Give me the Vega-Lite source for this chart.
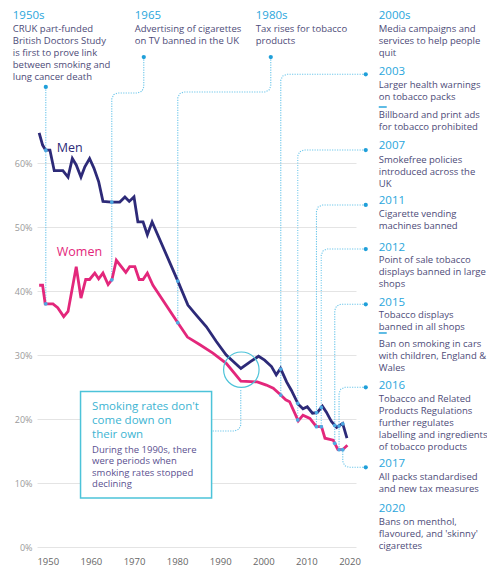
{
  "$schema": "https://vega.github.io/schema/vega-lite/v6.json",
  "width": 319,
  "height": 448,
  "autosize": {"type": "none"},
  "padding": {"left": 37, "top": 99, "right": 131, "bottom": 22},
  "background": "white",
  "config": {"view": {"stroke": null}, "font": "Open Sans"},
  "datasets": {
    "series": [
      {"s":"Men","x":1948,"y":64.7},{"s":"Men","x":1948.8,"y":62.8},{"s":"Men","x":1949.5,"y":62},{"s":"Men","x":1950.5,"y":62},{"s":"Men","x":1951.5,"y":58.8},{"s":"Men","x":1953.5,"y":58.8},{"s":"Men","x":1954.7,"y":57.8},{"s":"Men","x":1955.7,"y":60.7},{"s":"Men","x":1956.6,"y":59.7},{"s":"Men","x":1957.7,"y":57.8},{"s":"Men","x":1958.6,"y":59.4},{"s":"Men","x":1959.7,"y":60.7},{"s":"Men","x":1960.7,"y":59.2},{"s":"Men","x":1961.8,"y":57.1},{"s":"Men","x":1962.8,"y":54},{"s":"Men","x":1964.8,"y":53.9},{"s":"Men","x":1966.7,"y":53.9},{"s":"Men","x":1967.9,"y":54.7},{"s":"Men","x":1968.9,"y":54},{"s":"Men","x":1970,"y":54.7},{"s":"Men","x":1970.9,"y":50.8},{"s":"Men","x":1972.1,"y":50.8},{"s":"Men","x":1973.1,"y":48.8},{"s":"Men","x":1974.2,"y":50.8},{"s":"Men","x":1980.2,"y":41.5},{"s":"Men","x":1982.5,"y":37.8},{"s":"Men","x":1984.5,"y":36.2},{"s":"Men","x":1986.8,"y":34.4},{"s":"Men","x":1989.1,"y":32.1},{"s":"Men","x":1991.4,"y":30},{"s":"Men","x":1994.8,"y":27.9},{"s":"Men","x":1997.1,"y":29},{"s":"Men","x":1998.9,"y":29.8},{"s":"Men","x":2000.3,"y":29.2},{"s":"Men","x":2001.9,"y":28.2},{"s":"Men","x":2003,"y":26.9},{"s":"Men","x":2004,"y":27.9},{"s":"Men","x":2005.4,"y":25.8},{"s":"Men","x":2006.5,"y":24.5},{"s":"Men","x":2008.1,"y":22.3},{"s":"Men","x":2009.2,"y":21.6},{"s":"Men","x":2010.2,"y":21.9},{"s":"Men","x":2011.4,"y":20.9},{"s":"Men","x":2012.5,"y":21},{"s":"Men","x":2013.7,"y":22},{"s":"Men","x":2014.6,"y":21.1},{"s":"Men","x":2015.8,"y":19.6},{"s":"Men","x":2017,"y":18.7},{"s":"Men","x":2018.4,"y":19.3},{"s":"Men","x":2019.4,"y":17},
      {"s":"Women","x":1948,"y":40.9},{"s":"Women","x":1948.8,"y":40.9},{"s":"Women","x":1949.4,"y":38},{"s":"Women","x":1951.2,"y":38},{"s":"Women","x":1952.3,"y":37.4},{"s":"Women","x":1953.7,"y":36},{"s":"Women","x":1954.7,"y":36.8},{"s":"Women","x":1956.6,"y":43.8},{"s":"Women","x":1957.7,"y":38.9},{"s":"Women","x":1958.8,"y":41.8},{"s":"Women","x":1959.7,"y":41.8},{"s":"Women","x":1960.9,"y":42.8},{"s":"Women","x":1961.8,"y":41.9},{"s":"Women","x":1962.8,"y":42.8},{"s":"Women","x":1964,"y":41},{"s":"Women","x":1964.9,"y":41.8},{"s":"Women","x":1965.9,"y":44.8},{"s":"Women","x":1968.1,"y":42.9},{"s":"Women","x":1969,"y":43.8},{"s":"Women","x":1970.2,"y":43.8},{"s":"Women","x":1971.2,"y":41.8},{"s":"Women","x":1972.1,"y":41.8},{"s":"Women","x":1973.1,"y":42.8},{"s":"Women","x":1974.4,"y":40.9},{"s":"Women","x":1980.2,"y":35},{"s":"Women","x":1982.4,"y":32.8},{"s":"Women","x":1985.3,"y":31.6},{"s":"Women","x":1988.3,"y":30.3},{"s":"Women","x":1991.4,"y":28.7},{"s":"Women","x":1994.8,"y":25.9},{"s":"Women","x":1998.6,"y":25.8},{"s":"Women","x":2000.7,"y":25.3},{"s":"Women","x":2002.3,"y":24.8},{"s":"Women","x":2003.8,"y":23.9},{"s":"Women","x":2005.2,"y":23},{"s":"Women","x":2006.1,"y":22.7},{"s":"Women","x":2008.1,"y":19.7},{"s":"Women","x":2009.2,"y":20.6},{"s":"Women","x":2010.8,"y":20.1},{"s":"Women","x":2012.3,"y":18.8},{"s":"Women","x":2013.5,"y":18.8},{"s":"Women","x":2014.3,"y":17},{"s":"Women","x":2016.2,"y":16.7},{"s":"Women","x":2017.3,"y":15.2},{"s":"Women","x":2018.4,"y":15.2},{"s":"Women","x":2019.5,"y":15.9}
    ],
    "connectors": [
      {"p":"a","o":0,"x":1949.54,"y":71.88},{"p":"a","o":1,"x":1949.54,"y":38},
      {"p":"b","o":0,"x":1972.27,"y":76.56},{"p":"b","o":1,"x":1972.27,"y":71.88},{"p":"b","o":2,"x":1971.85,"y":71.22},{"p":"b","o":3,"x":1970.88,"y":70.94},{"p":"b","o":4,"x":1966.24,"y":70.94},{"p":"b","o":5,"x":1965.26,"y":70.66},{"p":"b","o":6,"x":1964.85,"y":70.0},{"p":"b","o":7,"x":1964.85,"y":41.75},
      {"p":"c","o":0,"x":2001.73,"y":76.56},{"p":"c","o":1,"x":2001.73,"y":72.03},{"p":"c","o":2,"x":2001.31,"y":71.38},{"p":"c","o":3,"x":2000.34,"y":71.09},{"p":"c","o":4,"x":1981.55,"y":71.09},{"p":"c","o":5,"x":1980.57,"y":70.81},{"p":"c","o":6,"x":1980.16,"y":70.16},{"p":"c","o":7,"x":1980.16,"y":35.05},
      {"p":"d","o":0,"x":2023.76,"y":73.86},{"p":"d","o":1,"x":2005.44,"y":73.86},{"p":"d","o":2,"x":2004.47,"y":73.58},{"p":"d","o":3,"x":2004.05,"y":72.92},{"p":"d","o":4,"x":2004.05,"y":23.74},
      {"p":"e","o":0,"x":2023.76,"y":62.03},{"p":"e","o":1,"x":2009.38,"y":62.03},{"p":"e","o":2,"x":2008.41,"y":61.75},{"p":"e","o":3,"x":2007.99,"y":61.09},{"p":"e","o":4,"x":2007.99,"y":19.86},
      {"p":"f","o":0,"x":2023.76,"y":53.44},{"p":"f","o":1,"x":2013.72,"y":53.44},{"p":"f","o":2,"x":2012.75,"y":53.16},{"p":"f","o":3,"x":2012.33,"y":52.5},{"p":"f","o":4,"x":2012.33,"y":18.8},
      {"p":"g","o":0,"x":2023.76,"y":46.56},{"p":"g","o":1,"x":2014.83,"y":46.56},{"p":"g","o":2,"x":2013.86,"y":46.28},{"p":"g","o":3,"x":2013.44,"y":45.63},{"p":"g","o":4,"x":2013.44,"y":18.8},
      {"p":"h","o":0,"x":2023.76,"y":37.92},{"p":"h","o":1,"x":2017.97,"y":37.92},{"p":"h","o":2,"x":2016.99,"y":37.64},{"p":"h","o":3,"x":2016.57,"y":36.98},{"p":"h","o":4,"x":2016.57,"y":16.2},
      {"p":"i","o":0,"x":2023.76,"y":24.95},{"p":"i","o":1,"x":2018.96,"y":24.95},{"p":"i","o":2,"x":2017.99,"y":24.67},{"p":"i","o":3,"x":2017.57,"y":24.02},{"p":"i","o":4,"x":2017.57,"y":15.2},
      {"p":"j","o":0,"x":2023.76,"y":12.45},{"p":"j","o":1,"x":2019.82,"y":12.45},{"p":"j","o":2,"x":2018.85,"y":12.73},{"p":"j","o":3,"x":2018.43,"y":13.39},{"p":"j","o":4,"x":2018.43,"y":15.2},
      {"p":"k","o":0,"x":1994.77,"y":24.53},{"p":"k","o":1,"x":1994.77,"y":19.06},{"p":"k","o":2,"x":1994.35,"y":18.41},{"p":"k","o":3,"x":1993.38,"y":18.13},{"p":"k","o":4,"x":1988.04,"y":18.13}
    ],
    "dots": [
      {"x":1949.54,"y":62},{"x":1949.54,"y":38},{"x":1964.85,"y":53.9},{"x":1964.85,"y":41.75},{"x":1980.16,"y":41.56},{"x":1980.16,"y":35.05},{"x":2004.05,"y":27.8},{"x":2004.05,"y":23.74},{"x":2007.99,"y":22.45},{"x":2007.99,"y":19.86},{"x":2012.33,"y":21},{"x":2012.33,"y":18.8},{"x":2013.44,"y":21.8},{"x":2013.44,"y":18.8},{"x":2016.57,"y":19.0},{"x":2016.57,"y":16.2},{"x":2017.57,"y":18.9},{"x":2017.57,"y":15.2},{"x":2018.43,"y":19.25},{"x":2018.43,"y":15.2}
    ],
    "enddots": [
      {"x":1949.54,"y":71.88},{"x":1972.27,"y":76.56},{"x":2001.73,"y":76.56},{"x":2023.76,"y":73.86},{"x":2023.76,"y":62.03},{"x":2023.76,"y":53.44},{"x":2023.76,"y":46.56},{"x":2023.76,"y":37.92},{"x":2023.76,"y":24.95},{"x":2023.76,"y":12.45}
    ],
    "dashes": [
      {"x":2026.78,"x2":2028.63,"y":68.75},{"x":2026.78,"x2":2028.63,"y":33.44}
    ],
    "box": [{"x":1957.6,"x2":1988.0,"y":24.3,"y2":7.66}],
    "circle": [{"x":1994.9,"y":27.7}],
    "labels": [{"s":"Men","x":1952.09,"y":61.72},{"s":"Women","x":1952.09,"y":45.44}],
    "texts": [
      {"k":"t","x":1941.88,"y":82.5,"text":"1950s"},
      {"k":"t","x":1970.18,"y":82.5,"text":"1965"},
      {"k":"t","x":1998.25,"y":82.5,"text":"1980s"},
      {"k":"t","x":2026.78,"y":82.5,"text":"2000s"},
      {"k":"t","x":2026.78,"y":73.8,"text":"2003"},
      {"k":"t","x":2026.78,"y":62.19,"text":"2007"},
      {"k":"t","x":2026.78,"y":53.59,"text":"2011"},
      {"k":"t","x":2026.78,"y":46.3,"text":"2012"},
      {"k":"t","x":2026.78,"y":37.7,"text":"2015"},
      {"k":"t","x":2026.78,"y":24.69,"text":"2016"},
      {"k":"t","x":2026.78,"y":12.45,"text":"2017"},
      {"k":"t","x":2026.78,"y":5.42,"text":"2020"},
      {"k":"b","x":1941.88,"y":80.42,"text":"CRUK part-funded\nBritish Doctors Study\nis first to prove link\nbetween smoking and\nlung cancer death"},
      {"k":"b","x":1970.18,"y":80.42,"text":"Advertising of cigarettes\non TV banned in the UK"},
      {"k":"b","x":1998.25,"y":80.42,"text":"Tax rises for tobacco\nproducts"},
      {"k":"b","x":2026.78,"y":80.42,"text":"Media campaigns and\nservices to help people\nquit"},
      {"k":"b","x":2026.78,"y":71.67,"text":"Larger health warnings\non tobacco packs"},
      {"k":"b","x":2026.78,"y":66.98,"text":"Billboard and print ads\nfor tobacco prohibited"},
      {"k":"b","x":2026.78,"y":60.06,"text":"Smokefree policies\nintroduced across the\nUK"},
      {"k":"b","x":2026.78,"y":51.63,"text":"Cigarette vending\nmachines banned"},
      {"k":"b","x":2026.78,"y":44.33,"text":"Point of sale tobacco\ndisplays banned in large\nshops"},
      {"k":"b","x":2026.78,"y":35.73,"text":"Tobacco  displays\nbanned in all shops"},
      {"k":"b","x":2026.78,"y":31.31,"text":"Ban on smoking in cars\nwith children, England &\nWales"},
      {"k":"b","x":2026.78,"y":22.72,"text":"Tobacco and Related\nProducts Regulations\nfurther regulates\nlabelling and ingredients\nof tobacco products"},
      {"k":"b","x":2026.78,"y":10.47,"text":"All packs standardised\nand new tax measures"},
      {"k":"b","x":2026.78,"y":3.44,"text":"Bans on menthol,\nflavoured, and 'skinny'\ncigarettes"},
      {"k":"bt","x":1960.28,"y":21.33,"text":"Smoking rates don't\ncome down on\ntheir own"},
      {"k":"bb","x":1960.28,"y":14.75,"text":"During the 1990s, there\nwere periods when\nsmoking rates stopped\ndeclining"}
    ]
  },
  "encoding": {
    "x": {"field": "x", "type": "quantitative",
      "scale": {"domain": [1947.5, 2021.5], "nice": false, "zero": false},
      "axis": {"title": null, "values": [1950,1960,1970,1980,1990,2000,2010,2020], "format": "d", "grid": false, "ticks": false, "domain": false, "labelColor": "#666666", "labelFont": "Open Sans", "labelFontSize": 9.5, "labelPadding": 9}},
    "y": {"field": "y", "type": "quantitative",
      "scale": {"domain": [0, 70], "nice": false, "zero": false},
      "axis": {"title": null, "values": [0,10,20,30,40,50,60], "labelExpr": "datum.value + '%'", "grid": true, "gridColor": "#e4e4e4", "gridWidth": 1, "ticks": false, "domain": false, "labelColor": "#9a9a9a", "labelFont": "Open Sans", "labelFontSize": 9, "labelPadding": 5}}
  },
  "layer": [
    {
      "data": {"name": "connectors"},
      "mark": {"type": "line", "stroke": "#6cc6ea", "strokeWidth": 1.1, "strokeDash": [1.2, 1.3], "clip": false},
      "encoding": {"detail": {"field": "p"}, "order": {"field": "o", "type": "quantitative"}}
    },
    {
      "data": {"name": "series"},
      "mark": {"type": "line", "strokeWidth": 2.8, "strokeJoin": "miter", "clip": false},
      "encoding": {"color": {"field": "s", "type": "nominal", "scale": {"domain": ["Men", "Women"], "range": ["#2d2a78", "#e3277b"]}, "legend": null}}
    },
    {
      "data": {"name": "dots"},
      "mark": {"type": "point", "filled": true, "size": 14, "color": "#4da9e2", "opacity": 1}
    },
    {
      "data": {"name": "enddots"},
      "mark": {"type": "point", "filled": true, "size": 18, "color": "#1f9fd9", "opacity": 1, "clip": false}
    },
    {
      "data": {"name": "dashes"},
      "mark": {"type": "rule", "stroke": "#2aa6dc", "strokeWidth": 1.5, "clip": false},
      "encoding": {"x2": {"field": "x2"}}
    },
    {
      "data": {"name": "circle"},
      "mark": {"type": "point", "filled": false, "size": 1257, "stroke": "#4cc3d9", "strokeWidth": 1.2, "opacity": 1}
    },
    {
      "data": {"name": "box"},
      "mark": {"type": "rect", "fill": "white", "stroke": "#4cc3d9", "strokeWidth": 1.5},
      "encoding": {"x2": {"field": "x2"}, "y2": {"field": "y2"}}
    },
    {
      "data": {"name": "labels"},
      "mark": {"type": "text", "align": "left", "baseline": "alphabetic", "font": "Open Sans", "fontSize": 12.5},
      "encoding": {"text": {"field": "s"}, "color": {"field": "s", "type": "nominal", "legend": null}}
    },
    {
      "data": {"name": "texts"},
      "transform": [{"filter": "datum.k === 't'"}],
      "mark": {"type": "text", "align": "left", "baseline": "alphabetic", "font": "Open Sans", "fontSize": 11.5, "color": "#2aa6dc", "clip": false},
      "encoding": {"text": {"field": "text"}}
    },
    {
      "data": {"name": "texts"},
      "transform": [{"filter": "datum.k === 'b'"}],
      "mark": {"type": "text", "align": "left", "baseline": "alphabetic", "font": "Open Sans", "fontSize": 9.5, "lineHeight": 12, "lineBreak": "\n", "color": "#4d4b78", "clip": false},
      "encoding": {"text": {"field": "text"}}
    },
    {
      "data": {"name": "texts"},
      "transform": [{"filter": "datum.k === 'bt'"}],
      "mark": {"type": "text", "align": "left", "baseline": "alphabetic", "font": "Open Sans", "fontSize": 11.5, "lineHeight": 13.8, "lineBreak": "\n", "color": "#3cb4d2"},
      "encoding": {"text": {"field": "text"}}
    },
    {
      "data": {"name": "texts"},
      "transform": [{"filter": "datum.k === 'bb'"}],
      "mark": {"type": "text", "align": "left", "baseline": "alphabetic", "font": "Open Sans", "fontSize": 9.5, "lineHeight": 11.6, "lineBreak": "\n", "color": "#5a5090"},
      "encoding": {"text": {"field": "text"}}
    }
  ]
}
